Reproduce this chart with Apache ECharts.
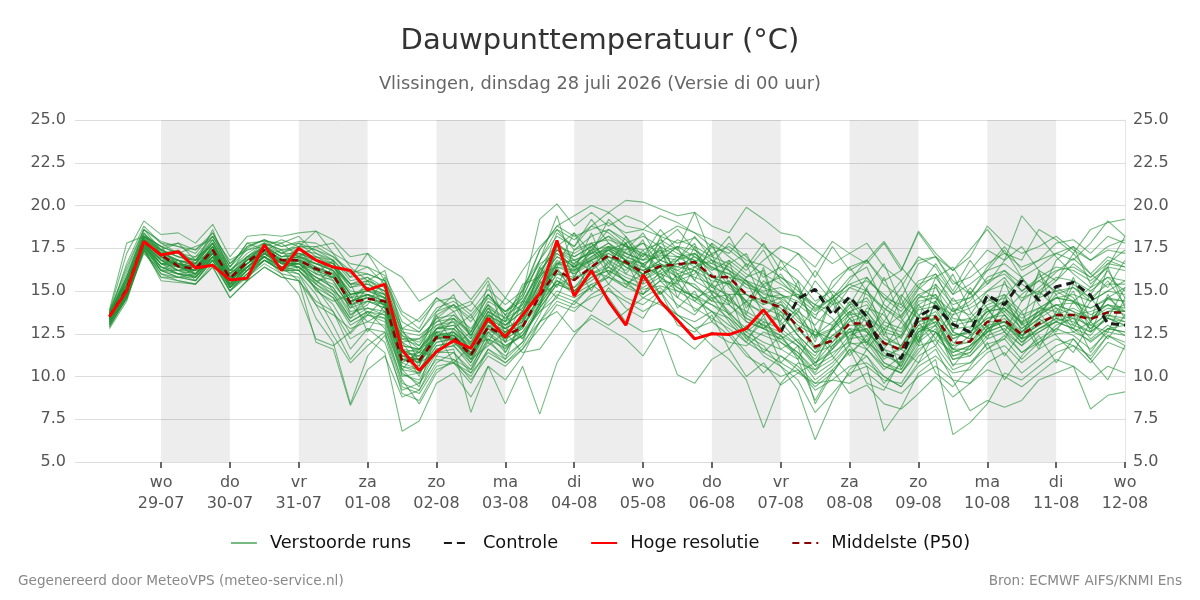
<!DOCTYPE html>
<html>
<head>
<meta charset="utf-8">
<title>Dauwpunttemperatuur</title>
<script src="https://cdn.jsdelivr.net/npm/echarts@6/dist/echarts.min.js"></script>
<style>
  html, body { margin: 0; padding: 0; background: #fff; }
  #chart { width: 1200px; height: 600px; }
</style>
</head>
<body>
<div id="chart"></div>
<script>
// uren t.o.v. wo 29-07 00:00, stap 6 uur
var hours = [-18,-12,-6,0,6,12,18,24,30,36,42,48,54,60,66,72,78,84,90,96,102,108,114,120,126,132,138,144,150,156,
             162,168,174,180,186,192,198,204,210,216,222,228,234,240,246,252,258,264,270,276,282,288,294,300,306,312,318,324,330,336];

var tickHours = [0,24,48,72,96,120,144,168,192,216,240,264,288,312,336];
var dayNames  = ['wo','do','vr','za','zo','ma','di','wo','do','vr','za','zo','ma','di','wo'];
var dayDates  = ['29-07','30-07','31-07','01-08','02-08','03-08','04-08','05-08','06-08','07-08','08-08','09-08','10-08','11-08','12-08'];
// grijze dagen
var bands = [[0,24],[48,72],[96,120],[144,168],[192,216],[240,264],[288,312]];

var hoogRes = [13.5,15.0,17.9,17.1,17.3,16.35,16.5,15.65,15.75,17.7,16.2,17.5,16.8,16.4,16.2,15.05,15.4,11.55,10.35,11.45,
               12.1,11.65,13.4,12.3,13.6,14.85,17.95,14.7,16.2,14.4,13.0,15.95,14.4,13.3,12.2,12.5,12.45,12.8,13.9,12.6];

var mediaan = [13.5,15.1,17.9,17.1,16.45,16.3,17.4,15.75,16.7,17.4,16.8,16.8,16.3,15.95,14.3,14.55,14.4,10.9,10.95,12.3,
               12.3,11.25,12.9,12.35,12.9,14.75,16.2,15.65,16.4,17.1,16.7,16.05,16.45,16.55,16.7,15.85,15.8,14.8,14.4,14.05,
               12.9,11.75,12.1,13.1,13.1,11.95,11.55,13.3,13.5,11.95,12.05,13.2,13.3,12.45,13.1,13.6,13.6,13.35,13.75,13.75];

var controle = [null,null,null,null,null,null,null,null,null,null,null,null,null,null,null,null,null,null,null,null,
                null,null,null,null,null,null,null,null,null,null,null,null,null,null,null,null,null,null,null,12.6,
                14.55,15.1,13.6,14.65,13.5,11.35,11.05,13.5,14.1,13.05,12.6,14.75,14.2,15.6,14.45,15.25,15.5,14.75,13.1,13.0];

var members = [
 [13.6,15.4,18.1,17.3,16.8,16.5,17.6,15.9,16.9,17.6, 17.0,17.1,16.6,16.2,14.8,15.0,14.6,11.5,11.2,12.6, 12.8,11.9,13.4,12.8,13.3,15.2,16.7,16.1,16.9,17.5, 17.0,16.6,17.1,17.0,17.2,16.3,16.0,15.2,14.9,14.5, 13.4,12.3,12.7,13.6,13.8,12.6,12.3,13.9,14.1,12.8, 12.9,13.8,14.0,13.1,13.8,14.2,14.3,14.0,14.5,14.4],
 [13.2,14.8,17.6,16.4,16.0,15.8,17.0,15.3,16.2,17.0, 16.4,16.2,15.1,14.2,12.5,13.6,13.4,10.1,9.8,11.6, 11.8,10.6,12.2,11.7,12.4,14.0,15.4,15.0,15.8,16.2, 15.6,15.1,15.3,15.0,14.8,14.2,13.7,12.8,12.4,12.0, 11.2,10.1,10.8,11.9,12.0,10.6,10.2,11.8,12.1,10.7, 10.8,11.9,12.2,11.0,12.0,12.5,12.6,12.1,12.8,12.6],
 [13.8,16.2,18.6,17.9,17.6,17.2,18.4,16.6,17.5,18.0, 17.6,17.9,17.8,17.2,16.6,16.4,15.9,13.8,13.2,14.4, 14.6,13.8,15.1,14.2,15.0,17.4,18.8,18.2,18.6,19.0, 18.4,18.6,18.2,17.8,18.1,17.2,17.6,16.8,16.5,15.8, 15.2,13.9,14.6,15.8,16.4,14.2,13.5,15.1,16.0,14.0, 13.6,15.0,15.8,14.4,15.2,16.1,16.9,16.0,17.0,16.6],
 [13.0,14.6,17.4,16.0,15.6,15.4,16.6,15.0,15.8,16.6, 16.0,15.8,13.4,12.0,8.4,11.2,12.4,9.0,8.6,10.4, 10.8,9.6,11.6,10.8,11.8,13.6,15.8,15.2,16.4,17.4, 17.8,16.4,17.6,16.0,15.2,14.4,15.6,13.2,12.8,13.6, 12.4,10.8,11.6,12.8,11.6,10.4,11.2,12.6,13.4,11.2, 11.6,12.8,13.4,12.2,14.0,13.8,12.6,13.2,14.6,13.8],
 [13.9,17.8,18.2,17.6,17.8,17.4,18.2,16.4,17.8,17.9, 17.8,18.2,17.2,16.8,15.6,15.8,15.2,12.6,11.8,13.2, 13.8,12.4,14.2,13.0,14.2,16.4,17.8,17.0,17.6,18.2, 17.2,17.8,16.6,15.8,16.2,14.8,13.6,12.4,11.8,10.6, 9.2,6.3,8.6,10.4,11.2,9.6,10.8,12.6,13.2,11.6, 12.4,13.2,14.0,12.8,13.6,14.8,15.2,14.4,15.0,15.6],
 [13.4,15.2,17.8,16.8,16.2,16.6,17.8,15.6,16.4,17.2, 16.6,17.2,16.8,15.6,14.0,15.2,14.8,11.0,10.6,12.8, 13.2,11.2,13.6,12.0,13.8,15.6,17.2,16.4,17.8,16.8, 16.2,17.4,15.8,16.8,18.2,16.8,15.2,14.4,15.6,14.8, 13.6,11.6,12.8,14.4,13.2,11.8,12.4,14.6,14.8,12.6, 12.2,13.6,14.8,12.6,13.4,15.2,14.6,13.2,14.6,15.2],
 [12.8,14.4,17.5,15.6,15.5,15.4,16.4,14.6,15.6,16.4, 15.8,15.6,14.2,13.6,12.8,13.2,13.0,9.6,9.2,11.2, 11.0,9.8,11.2,10.6,11.6,12.8,14.2,13.8,14.8,15.4, 14.6,14.2,15.0,13.6,13.2,13.8,12.6,11.4,10.2,11.2, 10.4,9.4,10.2,11.6,11.2,10.0,9.4,10.8,11.6,9.8, 9.6,10.8,11.4,10.2,11.0,11.8,12.2,11.0,12.4,12.0],
 [13.5,15.0,17.9,17.0,16.4,16.2,17.3,15.7,16.6,17.3, 16.7,16.9,16.2,16.1,14.6,14.8,14.2,11.2,11.4,12.2, 12.6,11.6,13.2,12.6,13.2,14.6,16.0,15.8,16.2,17.0, 16.4,16.0,16.8,16.4,17.0,16.2,16.8,16.0,15.4,15.8, 15.0,14.2,13.8,15.2,15.6,14.8,14.0,15.4,15.8,14.4, 14.6,15.4,16.2,15.0,15.8,16.4,16.2,15.6,16.4,16.2],
 [13.7,15.8,18.4,17.4,17.0,16.8,18.0,16.2,17.2,17.8, 17.2,17.6,17.4,16.8,15.8,16.0,15.6,12.4,12.0,13.4, 13.6,12.8,14.2,13.4,14.6,16.8,18.2,17.6,18.8,18.4, 17.6,17.0,18.0,17.4,16.6,17.8,17.0,16.2,17.4,15.6, 14.6,13.4,15.6,16.4,15.0,13.8,15.2,17.0,16.4,14.8, 16.2,17.4,16.8,19.4,18.2,17.0,16.0,15.2,16.6,17.4],
 [12.9,14.6,17.3,15.8,15.8,15.6,16.8,15.0,16.0,16.8, 16.2,16.0,14.8,13.0,11.0,12.2,11.4,6.8,7.4,9.6, 10.2,8.8,10.6,9.8,11.2,13.2,14.8,14.4,15.2,16.0, 16.8,15.6,16.4,15.2,14.6,15.0,14.2,13.4,13.0,12.6, 11.8,10.8,12.0,13.4,12.6,11.0,11.8,13.6,14.0,12.2, 12.6,13.8,14.4,13.0,13.6,14.2,13.8,12.8,13.8,14.2],
 [13.6,15.6,18.0,17.2,16.6,16.4,17.6,15.8,16.8,17.6, 16.8,17.0,16.4,16.0,14.6,15.2,14.6,11.8,11.6,12.8, 13.0,12.0,13.8,13.2,14.8,19.2,20.1,18.8,19.6,18.8, 19.4,19.0,18.2,18.8,18.4,17.6,17.2,18.4,17.6,16.8, 16.2,15.0,14.2,15.6,16.8,15.4,14.6,16.6,17.0,15.6, 14.8,16.4,17.6,16.2,16.8,17.8,18.0,17.2,18.2,17.8],
 [13.1,14.9,17.6,16.2,16.2,15.8,17.0,15.2,16.2,17.0, 16.4,16.4,15.6,14.8,13.4,14.0,13.6,10.2,9.6,11.4, 11.6,7.9,10.6,8.4,10.6,7.8,10.8,12.4,13.6,13.0, 13.8,14.6,15.2,14.2,13.6,14.8,13.8,12.6,13.4,12.0, 11.4,10.2,11.8,12.6,13.0,11.6,10.6,12.4,13.6,11.4, 11.8,12.6,13.6,12.4,13.2,13.6,14.0,13.4,14.2,13.8],
 [13.3,15.0,17.8,16.6,16.8,16.0,17.2,15.4,16.4,17.4, 16.6,16.6,15.8,15.4,14.2,14.4,14.0,11.4,10.8,12.0, 12.2,11.0,13.0,12.4,13.6,15.0,16.6,16.8,17.2,17.8, 17.2,16.8,17.4,16.2,16.8,15.8,15.4,14.2,13.8,13.2, 12.0,11.0,12.4,12.6,12.8,11.4,10.6,12.8,12.6,11.2, 11.4,12.8,13.2,12.0,12.8,13.4,13.0,12.6,13.4,13.0],
 [13.8,17.2,19.1,18.3,18.4,17.8,18.9,17.0,18.2,18.3, 18.2,18.4,18.5,18.0,17.0,17.2,16.4,15.8,14.4,15.0, 15.7,14.5,15.8,14.6,16.2,17.6,18.6,17.4,18.2,18.6, 17.8,18.2,17.6,17.0,16.4,16.8,16.2,15.6,14.8,14.6, 13.8,13.0,14.2,14.6,13.4,12.8,13.6,14.8,14.2,13.6, 14.0,14.6,13.8,14.8,15.6,15.0,14.4,15.2,15.8,15.0],
 [13.2,14.7,17.7,16.4,16.0,15.9,17.2,15.4,16.2,17.2, 16.4,16.6,15.8,15.2,13.8,14.0,13.8,10.6,10.4,11.8, 12.0,11.2,12.8,12.2,12.8,14.6,16.4,16.0,16.6,17.2, 16.6,16.2,16.6,16.2,15.8,15.4,14.6,13.6,13.0,12.4, 11.2,9.8,10.6,11.8,10.6,6.8,8.2,10.2,11.0,6.6, 7.3,8.4,10.2,9.8,10.6,11.4,11.8,10.8,12.0,11.6],
 [13.6,15.6,18.2,17.6,17.2,16.8,17.8,16.0,17.0,17.8, 17.4,17.4,16.8,16.6,15.2,15.6,15.2,12.2,11.8,13.6, 14.2,12.6,14.8,13.6,14.2,16.2,17.4,16.6,17.4,18.6, 18.0,16.8,17.8,18.6,17.4,16.6,17.8,17.0,15.8,16.4, 15.6,14.4,15.0,14.2,15.8,14.6,13.8,15.2,14.6,13.8, 14.4,15.8,16.2,15.4,14.8,15.6,16.6,15.8,16.8,16.4],
 [13.4,15.2,17.8,16.8,16.6,16.4,17.4,15.6,16.4,17.2, 16.4,15.6,12.0,11.6,8.3,10.4,11.2,8.8,9.2,10.8, 11.4,10.2,12.2,11.6,12.6,13.8,14.6,14.2,15.4,15.8, 15.2,14.8,15.6,15.4,14.6,14.2,13.4,12.2,11.6,11.2, 10.6,9.6,10.4,11.4,12.2,10.8,10.2,11.4,12.6,11.0, 11.2,12.4,12.8,11.8,12.6,13.2,13.6,12.8,13.4,13.2],
 [13.5,15.3,18.0,17.0,16.6,16.2,17.6,15.8,16.8,17.4, 16.9,16.8,16.4,16.0,14.4,14.8,14.4,11.2,11.0,12.4, 12.6,11.8,13.6,12.8,13.4,15.6,17.0,16.6,17.4,17.6, 17.4,17.8,17.2,18.0,17.6,17.0,16.6,15.8,16.8,17.6, 17.2,16.4,17.9,17.2,16.6,17.8,16.2,18.4,17.0,16.2, 17.4,18.6,17.2,16.8,18.6,18.0,17.2,18.6,19.0,19.2],
 [13.0,14.5,17.4,16.0,15.8,15.6,16.8,15.2,15.8,16.8, 16.2,16.4,15.4,14.6,13.2,13.8,13.4,10.4,10.2,11.6, 11.8,10.8,12.4,11.8,12.4,13.8,15.0,14.6,15.2,15.8, 15.4,14.8,15.6,14.6,14.0,13.4,12.8,12.0,11.4,10.8, 10.2,9.6,9.8,10.6,10.8,10.0,9.4,10.6,11.2,10.2, 10.4,11.4,11.8,10.8,11.6,12.2,11.8,11.2,12.4,11.8],
 [13.7,16.0,18.4,17.2,17.4,16.6,18.6,16.0,17.6,18.0, 17.2,17.8,17.0,16.4,15.4,15.8,14.8,12.0,11.4,13.8, 14.8,12.2,15.4,12.4,15.2,16.8,19.4,16.2,18.4,16.0, 17.8,15.4,18.2,15.6,17.6,14.8,16.8,13.6,16.4,13.2, 15.6,12.2,14.8,11.8,15.2,12.4,14.6,12.0,15.4,12.6, 15.0,12.8,15.6,13.0,16.2,13.4,15.8,13.2,16.4,14.0],
 [13.3,14.9,17.7,16.6,16.4,16.0,17.4,15.6,16.6,17.2, 16.6,16.4,15.6,15.8,14.2,14.6,14.2,11.0,11.2,12.4, 12.4,11.4,12.6,12.6,13.0,14.2,15.6,15.0,16.0,16.6, 16.0,15.6,16.2,17.0,16.8,15.2,15.6,14.4,13.6,14.2, 13.2,12.6,12.2,13.4,13.8,12.4,11.8,13.2,13.8,12.4, 12.6,13.4,13.6,12.6,13.4,14.0,13.6,13.8,14.2,13.6],
 [13.4,15.2,18.0,17.0,16.4,16.4,17.2,15.6,16.6,17.4, 16.8,17.0,16.6,16.2,15.0,14.8,14.6,11.6,11.0,12.8, 12.8,11.6,13.6,13.0,13.8,15.4,16.2,15.0,15.6,16.4, 15.6,14.6,14.2,13.6,12.8,11.8,11.0,9.8,7.0,9.6, 10.8,10.4,11.6,12.6,12.0,11.2,11.6,13.0,12.6,11.6, 11.2,12.2,12.6,11.4,12.0,13.0,13.4,12.2,13.0,12.4],
 [13.7,15.6,18.2,17.4,17.0,16.6,18.0,16.2,17.0,17.6, 17.0,17.4,17.2,16.6,15.4,15.6,15.0,12.6,12.4,13.2, 13.4,12.4,14.0,13.4,14.0,16.0,17.6,17.2,17.8,18.0, 17.6,17.2,16.8,17.6,17.0,16.4,15.8,15.6,14.6,14.8, 14.2,13.4,13.0,14.0,14.6,13.2,12.8,14.2,14.8,13.4, 13.2,14.2,14.6,13.6,14.0,14.6,14.8,14.4,15.0,14.8],
 [13.1,14.7,17.5,16.2,15.8,15.8,16.8,15.0,16.0,16.8, 16.2,16.2,15.2,14.6,13.0,13.6,13.2,10.0,10.2,11.4, 11.4,10.4,12.0,11.2,12.0,13.2,13.8,12.6,13.4,12.8, 12.2,11.2,12.8,12.4,11.6,12.6,12.0,11.8,12.6,12.2, 12.8,11.6,12.4,13.2,13.6,12.2,11.8,13.4,13.6,12.4, 12.6,13.4,13.8,12.8,13.6,14.2,13.8,13.4,14.0,13.8],
 [13.6,15.4,18.2,17.2,16.8,16.6,17.8,16.0,16.8,17.6, 17.0,17.2,16.8,16.4,15.2,15.4,15.0,12.2,12.2,13.4, 14.2,13.2,14.6,13.8,14.8,17.4,18.8,19.4,20.0,19.6, 20.3,20.2,19.8,19.4,19.6,18.8,18.4,19.9,19.2,18.4, 18.2,17.4,16.6,17.2,17.8,16.4,15.6,16.8,17.0,15.4, 15.8,16.6,17.2,16.4,16.8,17.2,17.6,16.8,17.4,17.2],
 [12.9,14.6,17.4,15.8,15.6,15.4,16.4,14.6,15.6,16.4, 15.8,15.6,14.4,13.8,12.2,12.8,12.6,9.4,9.0,10.6, 10.8,10.2,11.4,10.8,11.6,13.2,14.4,14.0,14.6,15.0, 14.4,13.8,14.4,13.6,12.8,13.2,12.4,11.2,10.6,10.0, 10.4,9.2,9.8,9.6,10.2,9.4,9.0,10.0,10.6,9.8, 8.0,8.6,8.2,8.6,9.8,10.2,10.6,8.1,8.9,9.1],
 [13.5,15.1,17.9,17.2,16.4,16.2,17.4,15.8,16.6,17.4, 16.6,16.8,16.6,16.4,14.8,15.0,14.8,11.4,11.6,12.6, 12.4,11.4,13.0,12.4,13.6,15.4,16.8,16.2,17.0,17.6, 16.8,16.2,16.8,16.4,16.2,15.6,15.4,14.4,14.6,13.8, 13.0,12.4,13.2,14.2,14.4,13.0,12.6,14.4,14.6,13.2, 13.4,14.4,14.8,13.8,14.6,15.0,15.2,14.6,15.4,15.4],
 [13.2,14.8,17.6,16.4,16.2,16.0,17.0,15.4,16.4,17.0, 16.4,16.2,15.2,13.8,11.6,12.8,12.0,9.2,9.6,11.0, 10.8,10.0,11.6,11.0,12.0,14.4,16.0,15.6,16.4,17.0, 16.6,16.0,16.4,15.8,15.2,14.6,14.8,13.4,12.8,12.2, 11.4,10.4,11.0,12.2,12.4,10.8,10.4,12.0,12.8,11.0, 11.4,12.6,13.0,12.0,12.8,13.2,12.8,12.4,13.6,13.2],
 [13.6,15.8,18.3,17.6,17.2,17.0,18.2,16.4,17.4,17.8, 17.4,17.6,17.6,17.0,16.0,16.4,15.4,12.8,12.6,13.8, 14.2,13.4,14.8,13.8,14.4,16.2,17.4,16.8,17.2,17.8, 17.0,16.6,17.2,17.6,17.4,16.8,16.4,15.6,15.2,14.8, 14.4,13.6,14.4,15.2,14.8,14.0,13.2,14.6,15.4,14.2, 14.6,15.6,16.0,15.0,15.6,16.2,16.4,15.8,16.6,16.4],
 [13.4,15.0,17.8,16.8,16.6,16.2,17.6,15.6,16.6,17.2, 16.6,16.6,16.2,15.8,14.4,14.8,14.4,11.2,11.0,12.2, 12.2,11.2,12.8,12.2,12.8,14.8,16.6,16.4,17.2,17.4, 16.8,16.4,16.0,16.6,16.2,15.2,14.8,14.8,14.0,13.6, 12.4,11.4,11.8,12.8,12.6,11.6,11.2,12.8,13.2,11.8, 12.0,13.0,13.2,12.4,13.0,13.6,13.4,13.0,13.6,13.4],
 [13.3,15.0,17.6,16.6,16.4,16.0,17.2,15.4,16.4,17.0, 16.4,16.6,16.0,15.6,14.0,14.4,14.2,11.0,10.8,12.2, 12.4,11.4,13.2,12.6,13.2,15.0,16.4,16.2,16.8,17.2, 16.6,16.2,16.6,16.0,16.4,15.8,15.4,14.8,14.2,14.6, 14.8,14.2,15.2,16.4,16.8,15.6,16.2,18.5,17.2,16.2, 17.0,18.8,17.8,17.2,17.6,18.2,17.4,16.8,17.6,18.0],
 [13.5,15.2,17.9,17.0,16.6,16.4,17.4,15.6,16.6,17.4, 16.8,16.8,16.2,15.8,14.4,14.8,14.4,11.4,11.2,12.4, 12.6,11.6,13.2,12.4,13.0,14.4,15.6,14.8,15.4,14.6, 13.2,12.6,12.8,10.1,9.6,11.0,11.6,10.0,10.8,9.5, 10.2,10.8,11.4,12.0,11.6,10.6,10.2,11.6,12.2,11.4, 11.8,12.6,13.0,12.2,12.6,13.2,12.8,12.0,12.8,12.6],
 [13.8,16.4,18.6,17.8,17.6,17.4,18.4,16.6,17.6,18.0, 17.6,17.8,17.4,17.0,16.2,16.0,15.6,13.2,12.6,14.0, 14.4,13.6,14.8,13.6,15.0,16.6,17.2,16.4,16.8,17.4, 16.4,15.8,16.4,16.8,15.6,15.0,14.4,13.8,13.2,12.8, 12.0,11.2,12.8,13.8,13.2,12.0,11.6,13.0,13.4,12.2, 12.8,13.8,14.0,13.2,13.8,14.6,14.4,13.6,14.2,14.0],
 [13.2,14.8,17.6,16.6,16.2,16.2,17.2,15.2,16.4,17.2, 16.6,16.4,15.8,15.2,13.6,14.4,14.0,10.8,10.4,12.0, 12.2,11.2,12.8,12.0,12.6,14.2,15.6,15.2,16.0,16.4, 15.8,15.4,16.0,15.6,15.4,14.4,14.2,13.2,12.8,12.4, 11.8,10.6,11.2,12.4,12.8,11.2,10.8,12.6,13.0,11.6, 11.6,12.8,13.2,12.2,12.8,13.4,13.2,12.6,13.4,13.0],
 [13.6,15.4,18.0,17.0,16.8,16.4,17.6,15.8,16.8,17.4, 16.8,17.0,16.6,16.2,14.8,15.0,14.6,11.6,11.4,12.8, 13.0,12.0,13.6,13.0,13.8,15.8,17.4,17.0,17.6,18.2, 17.6,17.4,17.8,17.2,16.8,16.6,16.2,15.4,15.0,15.2, 14.6,13.8,14.6,15.4,15.8,14.6,14.2,15.6,16.0,14.8, 15.4,16.2,16.6,15.8,16.4,17.2,16.8,17.8,19.1,18.2],
 [13.4,15.0,17.7,16.8,16.4,16.2,17.2,15.6,16.4,17.2, 16.6,16.6,16.0,15.8,14.4,14.6,14.2,11.2,10.8,12.2, 12.4,11.6,13.4,12.8,13.4,15.2,16.6,16.0,16.8,17.4, 16.8,16.6,15.8,15.2,14.6,13.8,13.0,12.4,11.2,10.6, 9.8,7.9,9.0,10.2,10.6,9.8,9.6,11.2,11.8,10.4, 10.8,11.6,12.4,11.4,12.2,12.8,12.4,11.6,12.6,12.4],
 [13.7,15.8,18.2,17.4,17.0,16.8,17.8,16.2,17.0,17.6, 17.2,17.2,17.0,16.6,15.4,15.4,15.0,12.0,12.2,13.0, 13.2,12.2,13.8,13.2,14.0,15.8,17.0,16.4,17.0,17.6, 17.2,16.8,17.0,16.8,17.2,16.4,16.0,15.4,14.6,14.2, 13.6,12.4,12.8,13.8,14.2,12.8,12.4,14.0,14.4,13.0, 13.2,14.0,14.4,13.4,14.0,14.6,14.4,14.0,14.6,14.4],
 [13.1,14.7,17.5,16.2,16.0,15.8,17.0,15.2,16.0,17.0, 16.2,16.2,15.4,14.8,13.2,13.8,13.6,10.6,10.2,11.8, 12.0,11.0,12.6,11.8,12.4,14.0,15.4,15.0,15.8,16.2, 15.6,15.2,15.8,15.0,14.4,13.8,13.4,12.6,12.0,11.6, 11.0,8.6,10.4,9.0,9.5,8.4,8.1,9.0,10.0,8.8, 9.6,10.4,10.0,9.4,10.2,11.0,10.6,9.8,10.6,10.2],
 [13.5,15.4,18.1,17.2,16.8,16.6,17.8,16.0,16.8,17.6, 17.0,17.0,16.8,16.2,14.8,15.2,14.8,11.8,11.6,13.0, 13.4,12.6,14.4,13.8,14.6,16.8,18.6,18.0,18.8,19.6, 18.8,18.6,19.4,19.0,18.4,18.0,17.4,16.6,16.0,15.4, 14.8,14.0,14.6,15.4,15.0,14.0,13.4,14.8,15.2,13.8, 14.2,15.0,15.4,14.6,15.0,15.8,15.6,15.0,15.8,15.6],
 [13.4,15.1,17.8,16.9,16.5,16.2,17.4,15.7,16.6,17.3, 16.7,16.7,16.3,15.9,14.4,14.6,14.3,11.0,11.0,12.3, 12.3,11.3,12.9,12.4,12.9,14.8,16.2,15.6,16.4,17.0, 16.6,16.0,16.4,16.6,16.6,15.8,15.8,14.8,14.4,14.0, 12.8,11.8,12.0,13.0,13.0,12.0,11.6,13.2,13.4,12.0, 12.0,13.2,13.2,12.4,13.0,13.6,13.6,13.4,13.8,13.8],
 [13.3,15.0,17.6,16.6,16.0,16.2,17.0,15.2,16.2,17.0, 16.0,14.8,12.2,11.8,12.6,13.8,12.8,10.4,11.6,12.8, 13.6,12.4,14.0,12.8,14.4,16.0,17.8,16.8,16.2,17.6, 16.0,17.2,16.4,15.4,17.2,16.0,14.4,15.6,13.6,14.4, 12.6,14.2,13.4,12.2,14.0,13.6,12.2,14.2,13.0,14.6, 13.4,12.2,14.6,15.8,14.2,13.2,15.4,14.6,13.4,15.2],
 [13.5,15.6,18.0,17.4,16.6,17.0,17.6,15.4,17.0,17.0, 17.4,16.2,17.0,16.8,13.6,14.2,15.8,12.8,10.8,11.4, 12.8,13.6,12.0,13.6,12.2,14.0,17.6,18.4,16.2,15.8, 17.4,18.4,16.8,17.6,15.6,17.8,15.4,16.6,14.2,16.8, 15.2,12.8,11.6,13.8,11.8,14.4,15.6,13.2,11.8,13.6, 15.2,14.0,12.6,14.4,16.0,14.8,13.0,14.8,16.2,14.6],
 [13.0,14.8,17.8,16.2,16.8,15.6,16.8,15.8,15.6,17.2, 16.6,17.0,15.4,16.4,15.4,13.6,14.6,12.0,10.6,13.6, 11.8,12.6,14.2,11.4,13.2,16.4,15.2,17.4,17.8,16.6, 17.8,15.8,17.6,14.6,16.4,17.2,14.2,15.8,16.2,12.8, 13.8,15.6,14.4,12.0,13.6,15.8,13.4,12.0,14.4,16.0, 13.8,12.6,14.2,13.2,11.6,13.8,15.0,12.6,14.8,13.4],
 [13.4,15.2,17.8,16.6,16.6,16.0,17.0,15.6,16.4,17.0, 16.4,16.0,14.2,12.4,10.8,11.8,12.6,9.8,8.4,10.2, 11.0,10.4,12.6,11.4,13.0,15.6,14.6,16.6,15.0,16.8, 15.4,16.0,14.8,15.6,13.8,14.6,13.2,12.0,13.6,11.6, 12.2,10.6,13.0,11.2,12.4,13.8,11.6,10.8,12.6,11.8, 13.4,11.6,12.2,13.8,11.8,12.8,13.6,11.4,12.8,13.0],
 [13.6,15.8,18.6,17.4,17.8,16.8,18.2,16.8,17.4,17.6, 18.0,17.6,18.5,17.2,15.8,17.2,15.6,13.6,12.8,14.6, 14.0,14.4,13.2,14.6,13.8,16.0,16.4,18.4,17.2,19.2, 18.2,17.0,18.6,17.4,19.6,17.0,18.2,16.4,17.8,16.2, 17.2,15.8,17.6,16.2,16.8,17.9,16.4,15.2,16.6,15.0, 16.8,15.4,16.8,17.6,16.2,15.6,17.2,16.0,15.2,16.8],
 [13.2,14.6,17.2,16.2,15.8,16.0,16.8,15.0,16.2,16.8, 16.4,16.8,15.6,15.0,14.2,13.2,13.8,10.8,11.4,11.2, 12.6,11.0,11.8,12.6,11.4,11.6,13.0,14.4,13.8,15.2, 14.0,13.4,15.0,13.0,12.6,13.6,11.6,13.0,11.4,12.4, 11.0,12.8,11.2,10.0,11.6,12.8,10.4,12.2,13.0,10.6, 11.8,13.0,11.2,12.6,13.8,12.4,11.4,13.2,12.2,13.6],
 [13.7,15.4,18.2,17.6,16.4,16.8,17.2,16.2,16.2,17.8, 16.6,17.6,16.0,16.8,14.2,15.6,14.0,12.4,11.6,12.2, 13.4,11.8,13.8,12.0,14.4,14.2,17.8,15.8,17.6,16.4, 18.2,16.4,17.4,15.6,16.0,17.6,16.2,14.0,15.4,13.0, 14.0,12.0,14.6,13.4,12.0,13.2,14.8,13.6,12.2,14.0, 12.4,14.8,13.6,12.2,15.0,14.0,12.8,14.4,15.6,14.2],
 [13.3,15.0,17.8,16.8,16.2,16.4,17.4,15.2,16.6,17.2, 16.8,16.4,16.4,15.0,13.4,14.8,13.8,11.6,10.0,12.6, 12.2,10.8,13.0,12.8,12.2,14.2,16.4,14.8,16.8,15.4, 16.8,14.8,16.2,14.0,15.0,13.2,14.8,12.2,13.2,10.8, 11.8,8.4,10.2,11.6,9.6,9.2,11.0,12.4,10.2,9.4, 10.6,12.0,9.8,11.2,12.4,10.8,12.2,11.0,9.8,11.8],
 [13.6,16.6,18.8,17.8,17.2,17.6,18.0,16.4,17.8,17.4, 17.8,17.0,17.6,17.8,16.4,15.6,16.2,12.8,13.4,14.6, 13.8,14.2,15.6,13.2,15.4,15.8,18.4,17.6,19.2,17.8, 16.8,18.0,15.6,16.8,17.8,15.4,16.6,17.2,15.2,16.0, 14.6,16.2,14.8,13.6,15.2,16.6,14.2,13.4,15.8,16.4, 14.8,16.2,17.4,15.8,14.6,16.8,17.6,15.4,16.4,18.2],
 [13.1,14.8,17.4,16.4,16.0,15.6,17.0,15.4,15.8,16.8, 16.2,16.8,15.0,14.4,14.8,12.6,14.2,10.4,9.4,12.6, 10.8,11.8,12.2,11.0,13.6,14.8,15.4,15.8,17.4,16.0, 15.2,16.6,14.8,16.0,14.4,15.4,13.6,14.4,12.8,13.8, 12.4,11.4,12.8,14.2,12.6,11.6,13.2,11.8,14.4,12.6, 12.2,14.0,12.6,11.8,13.4,12.6,14.4,13.0,12.6,14.6]
];

function pairs(arr) {
    var out = [];
    for (var i = 0; i < arr.length; i++) out.push([hours[i], arr[i]]);
    return out;
}

var chart = echarts.init(document.getElementById('chart'));
var FONT = 'DejaVu Sans';
var GREEN = 'rgba(35,145,55,0.62)';

var series = [];
members.forEach(function (m, k) {
    var s = {
        name: 'Verstoorde runs',
        type: 'line',
        symbol: 'none',
        silent: true,
        z: 2,
        itemStyle: { color: GREEN },
        lineStyle: { color: GREEN, width: 1.1 },
        data: pairs(m)
    };
    if (k === 0) {
        s.markArea = {
            silent: true,
            itemStyle: { color: 'rgba(0,0,0,0.07)' },
            data: bands.map(function (b) { return [{ xAxis: b[0] }, { xAxis: b[1] }]; })
        };
    }
    series.push(s);
});
series.push({
    name: 'Middelste (P50)', type: 'line', symbol: 'none', z: 3,
    itemStyle: { color: '#8b0000' },
    lineStyle: { color: '#8b0000', width: 2.5, type: [7, 5] },
    data: pairs(mediaan)
});
series.push({
    name: 'Controle', type: 'line', symbol: 'none', z: 4,
    itemStyle: { color: '#1a1a1a' },
    lineStyle: { color: '#1a1a1a', width: 3, type: [8, 5] },
    data: pairs(controle)
});
series.push({
    name: 'Hoge resolutie', type: 'line', symbol: 'none', z: 5,
    itemStyle: { color: '#ff0000' },
    lineStyle: { color: '#ff0000', width: 3 },
    data: pairs(hoogRes)
});

var option = {
    animation: false,
    textStyle: { fontFamily: FONT },
    title: {
        text: 'Dauwpunttemperatuur (°C)',
        subtext: 'Vlissingen, dinsdag 28 juli 2026 (Versie di 00 uur)',
        left: 'center',
        top: 22,
        itemGap: 19,
        textStyle: { fontFamily: FONT, fontSize: 29, fontWeight: 'normal', color: '#333' },
        subtextStyle: { fontFamily: FONT, fontSize: 17.8, color: '#666' }
    },
    legend: {
        top: 529,
        left: 'center',
        itemWidth: 26,
        itemHeight: 10,
        itemGap: 32,
        itemStyle: { opacity: 0 },
        data: ['Verstoorde runs', 'Controle', 'Hoge resolutie', 'Middelste (P50)'],
        textStyle: { fontFamily: FONT, fontSize: 17.8, color: '#111', padding: [0, 0, 0, 8] }
    },
    grid: { left: 75, right: 75, top: 120, bottom: 138 },
    xAxis: {
        type: 'value',
        min: -30,
        max: 336,
        axisLine: { show: false },
        splitLine: { show: false },
        axisTick: { show: true, customValues: tickHours, length: 6, lineStyle: { color: '#666', width: 2 } },
        axisLabel: {
            customValues: tickHours,
            margin: 10,
            fontFamily: FONT,
            fontSize: 16,
            lineHeight: 21,
            color: '#555',
            formatter: function (v) {
                var i = tickHours.indexOf(v);
                return i < 0 ? '' : dayNames[i] + '\n' + dayDates[i];
            }
        }
    },
    yAxis: [{
        type: 'value', min: 5, max: 25, interval: 2.5,
        axisLine: { show: false }, axisTick: { show: false },
        splitLine: { lineStyle: { color: '#dddddd', width: 1 } },
        axisLabel: { fontFamily: FONT, fontSize: 16, color: '#555', margin: 9, formatter: function (v) { return v.toFixed(1); } }
    }, {
        type: 'value', min: 5, max: 25, interval: 2.5, position: 'right',
        axisLine: { show: true, lineStyle: { color: '#e4e4e4' } }, axisTick: { show: false },
        splitLine: { show: false },
        axisLabel: { fontFamily: FONT, fontSize: 16, color: '#555', margin: 8, formatter: function (v) { return v.toFixed(1); } }
    }],
    graphic: [{
        type: 'text', left: 18, top: 574,
        style: { text: 'Gegenereerd door MeteoVPS (meteo-service.nl)', fontFamily: FONT, fontSize: 13.6, fill: '#888' }
    }, {
        type: 'text', right: 18, top: 574,
        style: { text: 'Bron: ECMWF AIFS/KNMI Ens', fontFamily: FONT, fontSize: 13.6, fill: '#888' }
    }],
    series: series
};
chart.setOption(option);
</script>
</body>
</html>
